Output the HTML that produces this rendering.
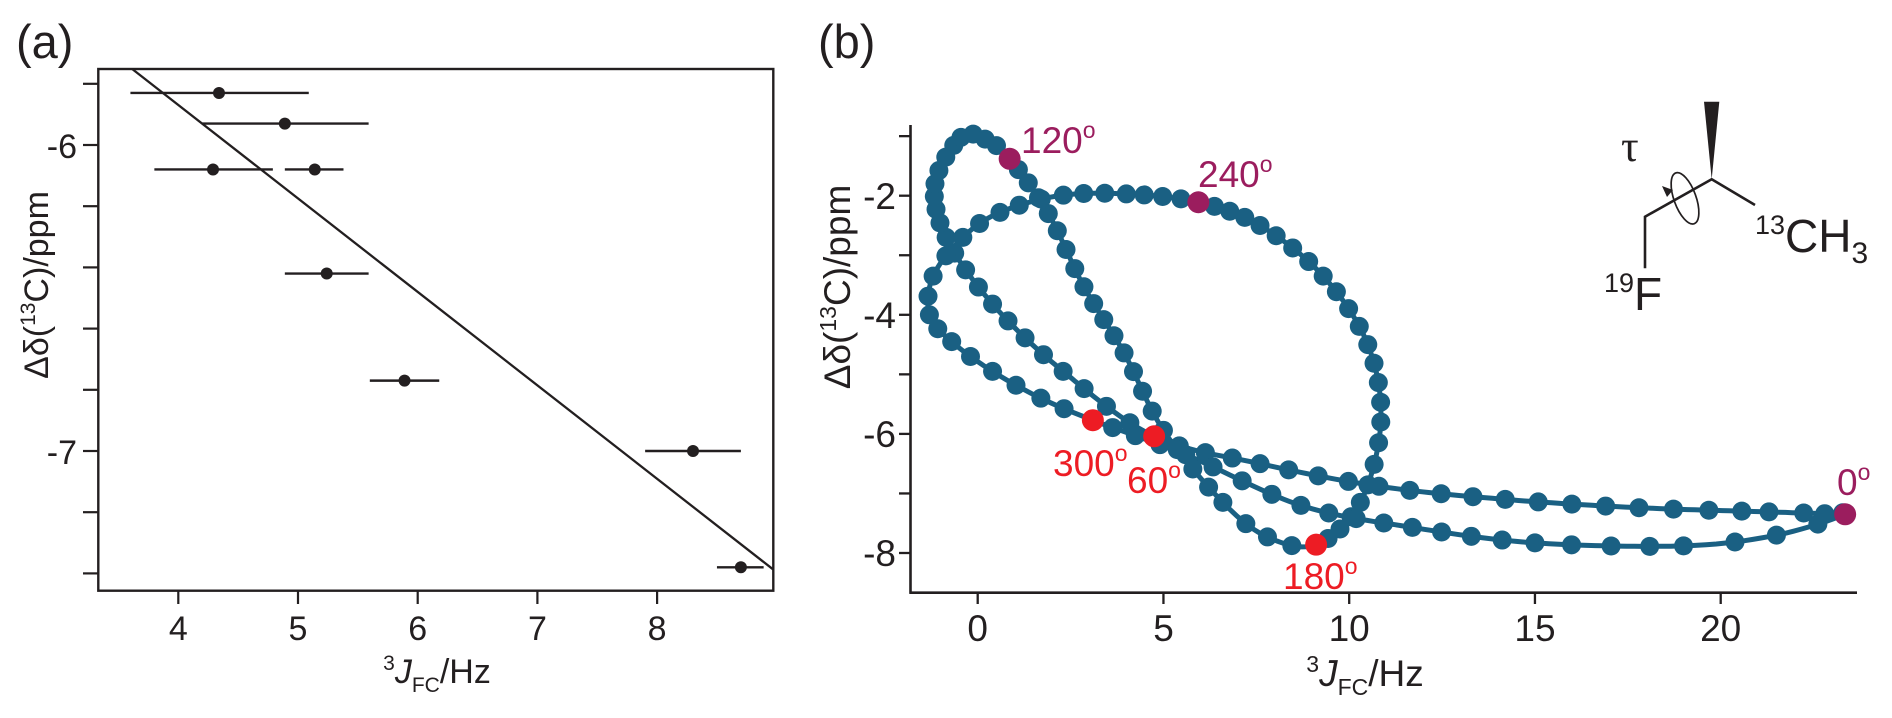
<!DOCTYPE html>
<html><head><meta charset="utf-8">
<style>
html,body{margin:0;padding:0;background:#fff;}
svg{display:block;font-family:"Liberation Sans",Arial,sans-serif;}
</style></head>
<body>
<svg id="s" width="1892" height="718" viewBox="0 0 1892 718" xmlns="http://www.w3.org/2000/svg">
<rect width="1892" height="718" fill="#fff"/>
<!-- Panel a -->
<text x="16" y="58" font-size="47" fill="#231f20">(a)</text>
<rect x="98.3" y="69" width="675" height="521.7" fill="none" stroke="#231f20" stroke-width="2.4"/>
<g id="aticks" stroke="#231f20" stroke-width="2.2"></g>
<g font-size="34" fill="#231f20" text-anchor="middle">
<text x="178.3" y="640">4</text><text x="298" y="640">5</text><text x="417.7" y="640">6</text><text x="537.4" y="640">7</text><text x="657.1" y="640">8</text>
</g>
<g font-size="34" fill="#231f20" text-anchor="end">
<text x="77" y="158">-6</text><text x="77" y="464">-7</text>
</g>
<text x="437" y="683" font-size="34" fill="#231f20" text-anchor="middle"><tspan font-size="21" dy="-13">3</tspan><tspan font-style="italic" dy="13">J</tspan><tspan font-size="21" dy="9">FC</tspan><tspan dy="-9">/Hz</tspan></text>
<text transform="translate(48,285) rotate(-90)" font-size="34" fill="#231f20" text-anchor="middle">Δδ(<tspan font-size="21" dy="-13">13</tspan><tspan dy="13">C)/ppm</tspan></text>
<line x1="132.2" y1="69" x2="773" y2="569.3" stroke="#231f20" stroke-width="2.3"/>
<g id="apts" stroke="#231f20" stroke-width="2.4" fill="#231f20"></g>

<!-- Panel b -->
<text x="818" y="58" font-size="47" fill="#231f20">(b)</text>
<line x1="910.5" y1="125" x2="910.5" y2="593.7" stroke="#231f20" stroke-width="2.6"/>
<line x1="909.5" y1="592.7" x2="1857" y2="592.7" stroke="#231f20" stroke-width="2.6"/>
<g id="bticks" stroke="#231f20" stroke-width="2.3"></g>
<g font-size="37" fill="#231f20" text-anchor="middle">
<text x="977.7" y="641">0</text><text x="1163.5" y="641">5</text><text x="1349.2" y="641">10</text><text x="1535" y="641">15</text><text x="1720.7" y="641">20</text>
</g>
<g font-size="37" fill="#231f20" text-anchor="end">
<text x="896" y="209">-2</text><text x="896" y="328">-4</text><text x="896" y="447">-6</text><text x="896" y="566">-8</text>
</g>
<text x="1365" y="686" font-size="37" fill="#231f20" text-anchor="middle"><tspan font-size="23" dy="-14">3</tspan><tspan font-style="italic" dy="14">J</tspan><tspan font-size="23" dy="9">FC</tspan><tspan dy="-9">/Hz</tspan></text>
<text transform="translate(850,287) rotate(-90)" font-size="37" fill="#231f20" text-anchor="middle">Δδ(<tspan font-size="23" dy="-14">13</tspan><tspan dy="14">C)/ppm</tspan></text>
<g id="curve"></g>
<g font-size="37">
<text x="1021" y="153" fill="#9b1d5e">120<tspan font-size="23" dy="-15">o</tspan></text>
<text x="1198" y="187" fill="#9b1d5e">240<tspan font-size="23" dy="-15">o</tspan></text>
<text x="1837" y="495" fill="#9b1d5e">0<tspan font-size="23" dy="-15">o</tspan></text>
<text x="1053" y="476" fill="#ed1c24">300<tspan font-size="23" dy="-15">o</tspan></text>
<text x="1127" y="493" fill="#ed1c24">60<tspan font-size="23" dy="-15">o</tspan></text>
<text x="1283" y="589" fill="#ed1c24">180<tspan font-size="23" dy="-15">o</tspan></text>
</g>
<!-- molecule -->
<g stroke="#231f20" stroke-width="2.6" fill="none">
<polyline points="1755,205 1711.7,179.3 1645,216.7 1645,268.3"/>
<ellipse cx="1685" cy="198.3" rx="11" ry="27" transform="rotate(-20 1685 198.3)" stroke-width="1.7"/>
</g>
<polygon points="1704,101.7 1719.3,101.7 1711.7,179.3" fill="#231f20"/>
<polygon points="1662,186 1673,190 1667,197" fill="#231f20"/>
<text x="1621" y="161" font-size="44" font-family="Liberation Serif,serif" fill="#231f20">τ</text>
<text x="1755" y="252" font-size="46" fill="#231f20"><tspan font-size="27" dy="-18">13</tspan><tspan dy="18">CH</tspan><tspan font-size="30" dy="11">3</tspan></text>
<text x="1604" y="310" font-size="46" fill="#231f20"><tspan font-size="27" dy="-18">19</tspan><tspan dy="18">F</tspan></text>
</svg>
<script>
(function(){
var NS="http://www.w3.org/2000/svg";
function el(p,n,a){var e=document.createElementNS(NS,n);for(var k in a)e.setAttribute(k,a[k]);p.appendChild(e);return e;}
var at=document.getElementById('aticks');
for(var i=0;i<9;i++){var v=-5.8-0.2*i;var y=145+(-6-v)*306;el(at,'line',{x1:83,y1:y,x2:98.3,y2:y});}
for(var i=4;i<=8;i++){var x=178.3+(i-4)*119.7;el(at,'line',{x1:x,y1:590.7,x2:x,y2:604});}
var pts=[[4.34,-5.83,3.6,5.09],[4.89,-5.93,4.2,5.59],[4.29,-6.08,3.8,4.79],[5.14,-6.08,4.89,5.38],[5.24,-6.42,4.89,5.59],[5.89,-6.77,5.6,6.18],[8.3,-7.0,7.9,8.7],[8.7,-7.38,8.5,8.89]];
var ap=document.getElementById('apts');
function xa(v){return 178.3+(v-4)*119.7;} function ya(v){return 145+(-6-v)*306;}
pts.forEach(function(p){el(ap,'line',{x1:xa(p[2]),y1:ya(p[1]),x2:xa(p[3]),y2:ya(p[1])});el(ap,'circle',{cx:xa(p[0]),cy:ya(p[1]),r:6,stroke:'none'});});
var bt=document.getElementById('bticks');
for(var v=-1;v>=-8;v--){var y=195.7+(-2-v)*59.55;el(bt,'line',{x1:899,y1:y,x2:910.5,y2:y});}
for(var v=0;v<=20;v+=5){var x=977.7+v*37.15;el(bt,'line',{x1:x,y1:592.7,x2:x,y2:604});}
var K=[[0,23.35,-7.35],[5,22.8,-7.34],[10,21.3,-7.31],[20,17.8,-7.24],[30,14.2,-7.1],[40,10.8,-6.88],[50,7.6,-6.5],[60,4.75,-6.04],
[70,2.3,-4.95],[80,0.4,-3.82],[90,-0.85,-2.7],[100,-1.15,-1.8],[110,-0.45,-1.02],[115,0.2,-1.05],[120,0.86,-1.38],
[130,1.9,-2.3],[140,2.86,-3.53],[150,3.94,-4.64],[160,5.0,-5.94],[170,6.6,-7.15],[175,7.8,-7.73],[180,9.11,-7.86],
[190,10.3,-7.15],[200,10.85,-5.8],[210,10.5,-4.5],[220,9.3,-3.35],[230,7.6,-2.5],[240,5.94,-2.11],
[250,4.0,-1.97],[258,2.2,-2.0],[265,0.6,-2.28],[270,-0.4,-2.7],[275,-1.2,-3.35],[280,-1.3,-4.0],[285,-0.7,-4.45],[290,0.4,-4.95],[295,1.7,-5.4],[300,3.1,-5.77],
[310,5.6,-6.35],[320,8.7,-7.2],[330,11.7,-7.57],[340,15.0,-7.83],[350,19.0,-7.88],[355,21.5,-7.7]];
var n=K.length;
function get(i){i=((i%n)+n)%n;return K[i];}
function ev(t){t=((t%360)+360)%360;var i=0;for(var j=0;j<n;j++){var a=K[j][0],b=(j+1<n?K[j+1][0]:360);if(t>=a&&t<b){i=j;break;}}
var a=K[i][0],b=(i+1<n?K[i+1][0]:360);var u=(t-a)/(b-a);
var p0=get(i-1),p1=get(i),p2=get(i+1),p3=get(i+2);var r=[];
for(var c=1;c<=2;c++){r.push(0.5*((2*p1[c])+(-p0[c]+p2[c])*u+(2*p0[c]-5*p1[c]+4*p2[c]-p3[c])*u*u+(-p0[c]+3*p1[c]-3*p2[c]+p3[c])*u*u*u));}
return r;}
function xb(v){return 977.7+v*37.15;} function yb(v){return 195.7+(-2-v)*59.55;}
var g=document.getElementById('curve');var d='';
for(var t=0;t<=360;t+=0.5){var q=ev(t);d+=(t==0?'M':'L')+xb(q[0]).toFixed(1)+','+yb(q[1]).toFixed(1);}
el(g,'path',{d:d,fill:'none',stroke:'#1a6083','stroke-width':5});
for(var t=0;t<360;t+=2.5){var q=ev(t);el(g,'circle',{cx:xb(q[0]),cy:yb(q[1]),r:9.5,fill:'#1a6083'});}
[[0,'#9b1d5e'],[120,'#9b1d5e'],[240,'#9b1d5e'],[60,'#ed1c24'],[180,'#ed1c24'],[300,'#ed1c24']].forEach(function(h){var q=ev(h[0]);el(g,'circle',{cx:xb(q[0]),cy:yb(q[1]),r:11,fill:h[1]});});
})();
</script>
</body></html>
